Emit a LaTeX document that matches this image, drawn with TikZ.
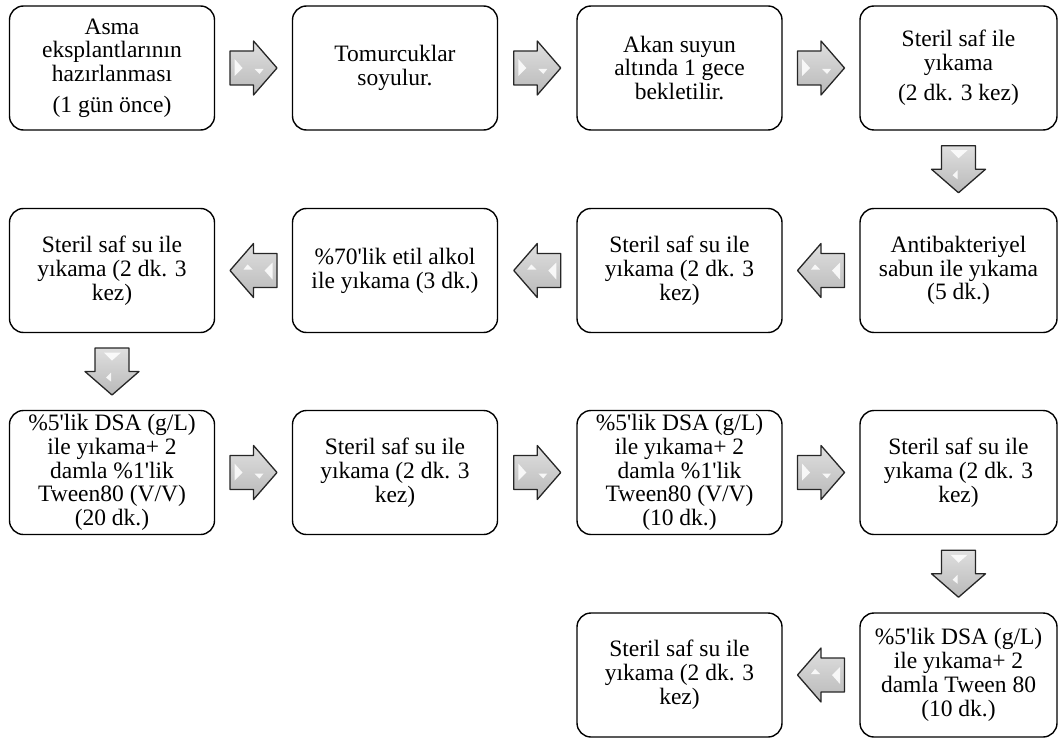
\documentclass[tikz,border=0pt]{standalone}
\usepackage{fontspec}
\newfontfamily\tnr{Liberation Serif}[Ligatures=TeXOff]
\usetikzlibrary{calc}
\tikzset{
  stepbox/.style={draw, line width=1.4pt, rounded corners=14pt,
    minimum width=205pt, minimum height=124pt, inner sep=0pt, align=center,
    font={\fontsize{23.5}{23.8}\tnr}},
  lastcol/.style={stepbox, minimum width=197pt},
  blockarr/.pic={
    \path[shading=axis, top color=gray!25, middle color=gray!32, bottom color=gray!55,
      draw=black!85, line width=1.3pt, line join=round]
      (-23.5,-17) -- (0,-17) -- (0,-27) -- (23.5,0) -- (0,27) -- (0,17) -- (-23.5,17) -- cycle;
    \fill[white, opacity=.85] (-19,9) -- (-11,0) -- (-19,-8) -- cycle;
    \fill[white, opacity=.85] (1,-1) -- (10,-1) -- (6,-6) -- cycle;
  }
}
\begin{document}
\begin{tikzpicture}[x=1pt,y=1pt]
\useasboundingbox (0,0) rectangle (1059,-738);
% row 1
\node[stepbox] (a1) at (112,-68) {Asma\\ eksplantlarının\\ hazırlanması\\[7pt] (1 gün önce)};
\node[stepbox] (a2) at (395,-68) {Tomurcuklar\\ soyulur.};
\node[stepbox] (a3) at (679.5,-68) {Akan suyun\\ altında 1 gece\\ bekletilir.};
\node[lastcol] (a4) at (958.5,-68) {Steril saf ile\\ yıkama\\[6pt] (2 dk. 3 kez)};
% row 2
\node[lastcol] (b1) at (958.5,-270.5) {Antibakteriyel\\ sabun ile yıkama\\ (5 dk.)};
\node[stepbox] (b2) at (679.5,-270.5) {Steril saf su ile\\ yıkama (2 dk. 3\\ kez)};
\node[stepbox] (b3) at (395,-270.5) {\%70'lik etil alkol\\ ile yıkama (3 dk.)};
\node[stepbox] (b4) at (112,-270.5) {Steril saf su ile\\ yıkama (2 dk. 3\\ kez)};
% row 3
\node[stepbox] (c1) at (112,-472.5) {\%5'lik DSA (g/L)\\ ile yıkama+ 2\\ damla \%1'lik\\ Tween80 (V/V)\\ (20 dk.)};
\node[stepbox] (c2) at (395,-472.5) {Steril saf su ile\\ yıkama (2 dk. 3\\ kez)};
\node[stepbox] (c3) at (679.5,-472.5) {\%5'lik DSA (g/L)\\ ile yıkama+ 2\\ damla \%1'lik\\ Tween80 (V/V)\\ (10 dk.)};
\node[lastcol] (c4) at (958.5,-472.5) {Steril saf su ile\\ yıkama (2 dk. 3\\ kez)};
% row 4
\node[lastcol] (d1) at (958.5,-675) {\%5'lik DSA (g/L)\\ ile yıkama+ 2\\ damla Tween 80\\ (10 dk.)};
\node[stepbox] (d2) at (679.5,-675) {Steril saf su ile\\ yıkama (2 dk. 3\\ kez)};
% connectors (block arrows)
\pic at ($(a1.east)!0.5!(a2.west)$) {blockarr};
\pic at ($(a2.east)!0.5!(a3.west)$) {blockarr};
\pic at ($(a3.east)!0.5!(a4.west)$) {blockarr};
\pic[rotate=-90] at ($(a4.south)!0.5!(b1.north)$) {blockarr};
\pic[rotate=180] at ($(b1.west)!0.5!(b2.east)$) {blockarr};
\pic[rotate=180] at ($(b2.west)!0.5!(b3.east)$) {blockarr};
\pic[rotate=180] at ($(b3.west)!0.5!(b4.east)$) {blockarr};
\pic[rotate=-90] at ($(b4.south)!0.5!(c1.north)$) {blockarr};
\pic at ($(c1.east)!0.5!(c2.west)$) {blockarr};
\pic at ($(c2.east)!0.5!(c3.west)$) {blockarr};
\pic at ($(c3.east)!0.5!(c4.west)$) {blockarr};
\pic[rotate=-90] at ($(c4.south)!0.5!(d1.north)$) {blockarr};
\pic[rotate=180] at ($(d1.west)!0.5!(d2.east)$) {blockarr};
\end{tikzpicture}
\end{document}
